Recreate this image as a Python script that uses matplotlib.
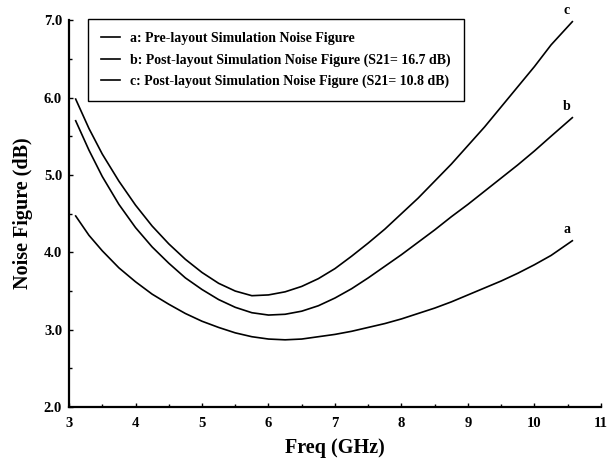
import matplotlib
matplotlib.use("Agg")
import matplotlib.pyplot as plt
from matplotlib.ticker import MultipleLocator

plt.rcParams['font.family'] = ['Liberation Serif', 'DejaVu Serif']
plt.rcParams['font.weight'] = 'bold'

freq = [3.1, 3.3, 3.5, 3.75, 4.0, 4.25, 4.5, 4.75, 5.0, 5.25, 5.5, 5.75, 6.0, 6.25,
        6.5, 6.75, 7.0, 7.25, 7.5, 7.75, 8.0, 8.25, 8.5, 8.75, 9.0, 9.25, 9.5, 9.75,
        10.0, 10.25, 10.57]

nf_a = [4.47, 4.22, 4.02, 3.80, 3.62, 3.46, 3.33, 3.21, 3.11, 3.03, 2.96, 2.91, 2.88, 2.87,
        2.88, 2.91, 2.94, 2.98, 3.03, 3.08, 3.14, 3.21, 3.28, 3.36, 3.45, 3.54, 3.63, 3.73,
        3.84, 3.96, 4.15]
nf_b = [5.70, 5.32, 4.98, 4.62, 4.32, 4.07, 3.86, 3.67, 3.52, 3.39, 3.29, 3.22, 3.19, 3.20,
        3.24, 3.31, 3.41, 3.53, 3.67, 3.82, 3.97, 4.13, 4.29, 4.46, 4.62, 4.79, 4.96, 5.13,
        5.31, 5.50, 5.74]
nf_c = [5.98, 5.60, 5.27, 4.92, 4.61, 4.34, 4.11, 3.91, 3.74, 3.60, 3.50, 3.44, 3.45, 3.49,
        3.56, 3.66, 3.79, 3.95, 4.12, 4.30, 4.50, 4.70, 4.92, 5.14, 5.38, 5.62, 5.88, 6.14,
        6.40, 6.68, 6.98]

labels = ["a: Pre-layout Simulation Noise Figure",
          "b: Post-layout Simulation Noise Figure (S21= 16.7 dB)",
          "c: Post-layout Simulation Noise Figure (S21= 10.8 dB)"]
tags = ["a", "b", "c"]

fig = plt.figure(figsize=(6.07, 4.68), dpi=100)
ax = fig.add_axes([0.1137, 0.130, 0.8763, 0.827])

for y, lab, tag in zip([nf_a, nf_b, nf_c], labels, tags):
    ax.plot(freq, y, color='black', lw=1.2, label=lab)
    ax.annotate(tag, (freq[-1], y[-1]), xytext=(-4, 3.5), textcoords='offset points',
                ha='center', va='bottom', fontsize=10, fontweight='bold')

ax.set_xlim(3, 11)
ax.set_ylim(2, 7)
ax.xaxis.set_major_locator(MultipleLocator(1))
ax.xaxis.set_minor_locator(MultipleLocator(0.5))
ax.yaxis.set_major_locator(MultipleLocator(1))
ax.yaxis.set_minor_locator(MultipleLocator(0.5))
ax.yaxis.set_major_formatter(plt.FormatStrFormatter('%.1f'))
ax.tick_params(axis='both', which='both', direction='in', labelsize=10.5)
ax.tick_params(which='major', length=3, width=1)
ax.tick_params(which='minor', length=2, width=1)
ax.tick_params(axis='x', pad=7)
ax.tick_params(axis='y', pad=5)
for lbl in ax.get_xticklabels() + ax.get_yticklabels():
    lbl.set_fontweight('bold')

for s in ['top', 'right']:
    ax.spines[s].set_visible(False)
for s in ['left', 'bottom']:
    ax.spines[s].set_linewidth(1.6)

ax.set_xlabel("Freq (GHz)", fontsize=14.5, fontweight='bold', labelpad=6)
ax.set_ylabel("Noise Figure (dB)", fontsize=14.5, fontweight='bold', labelpad=8)

leg = ax.legend(loc='upper left', bbox_to_anchor=(0.036, 1.003), borderaxespad=0,
                fancybox=False, frameon=True, edgecolor='black', framealpha=1,
                prop={'family': 'Liberation Serif', 'weight': 'bold', 'size': 10.0},
                handlelength=1.35, handletextpad=0.7, labelspacing=0.58, borderpad=0.95)
leg.get_frame().set_linewidth(1.0)

fig.savefig("out.png", dpi=100)
